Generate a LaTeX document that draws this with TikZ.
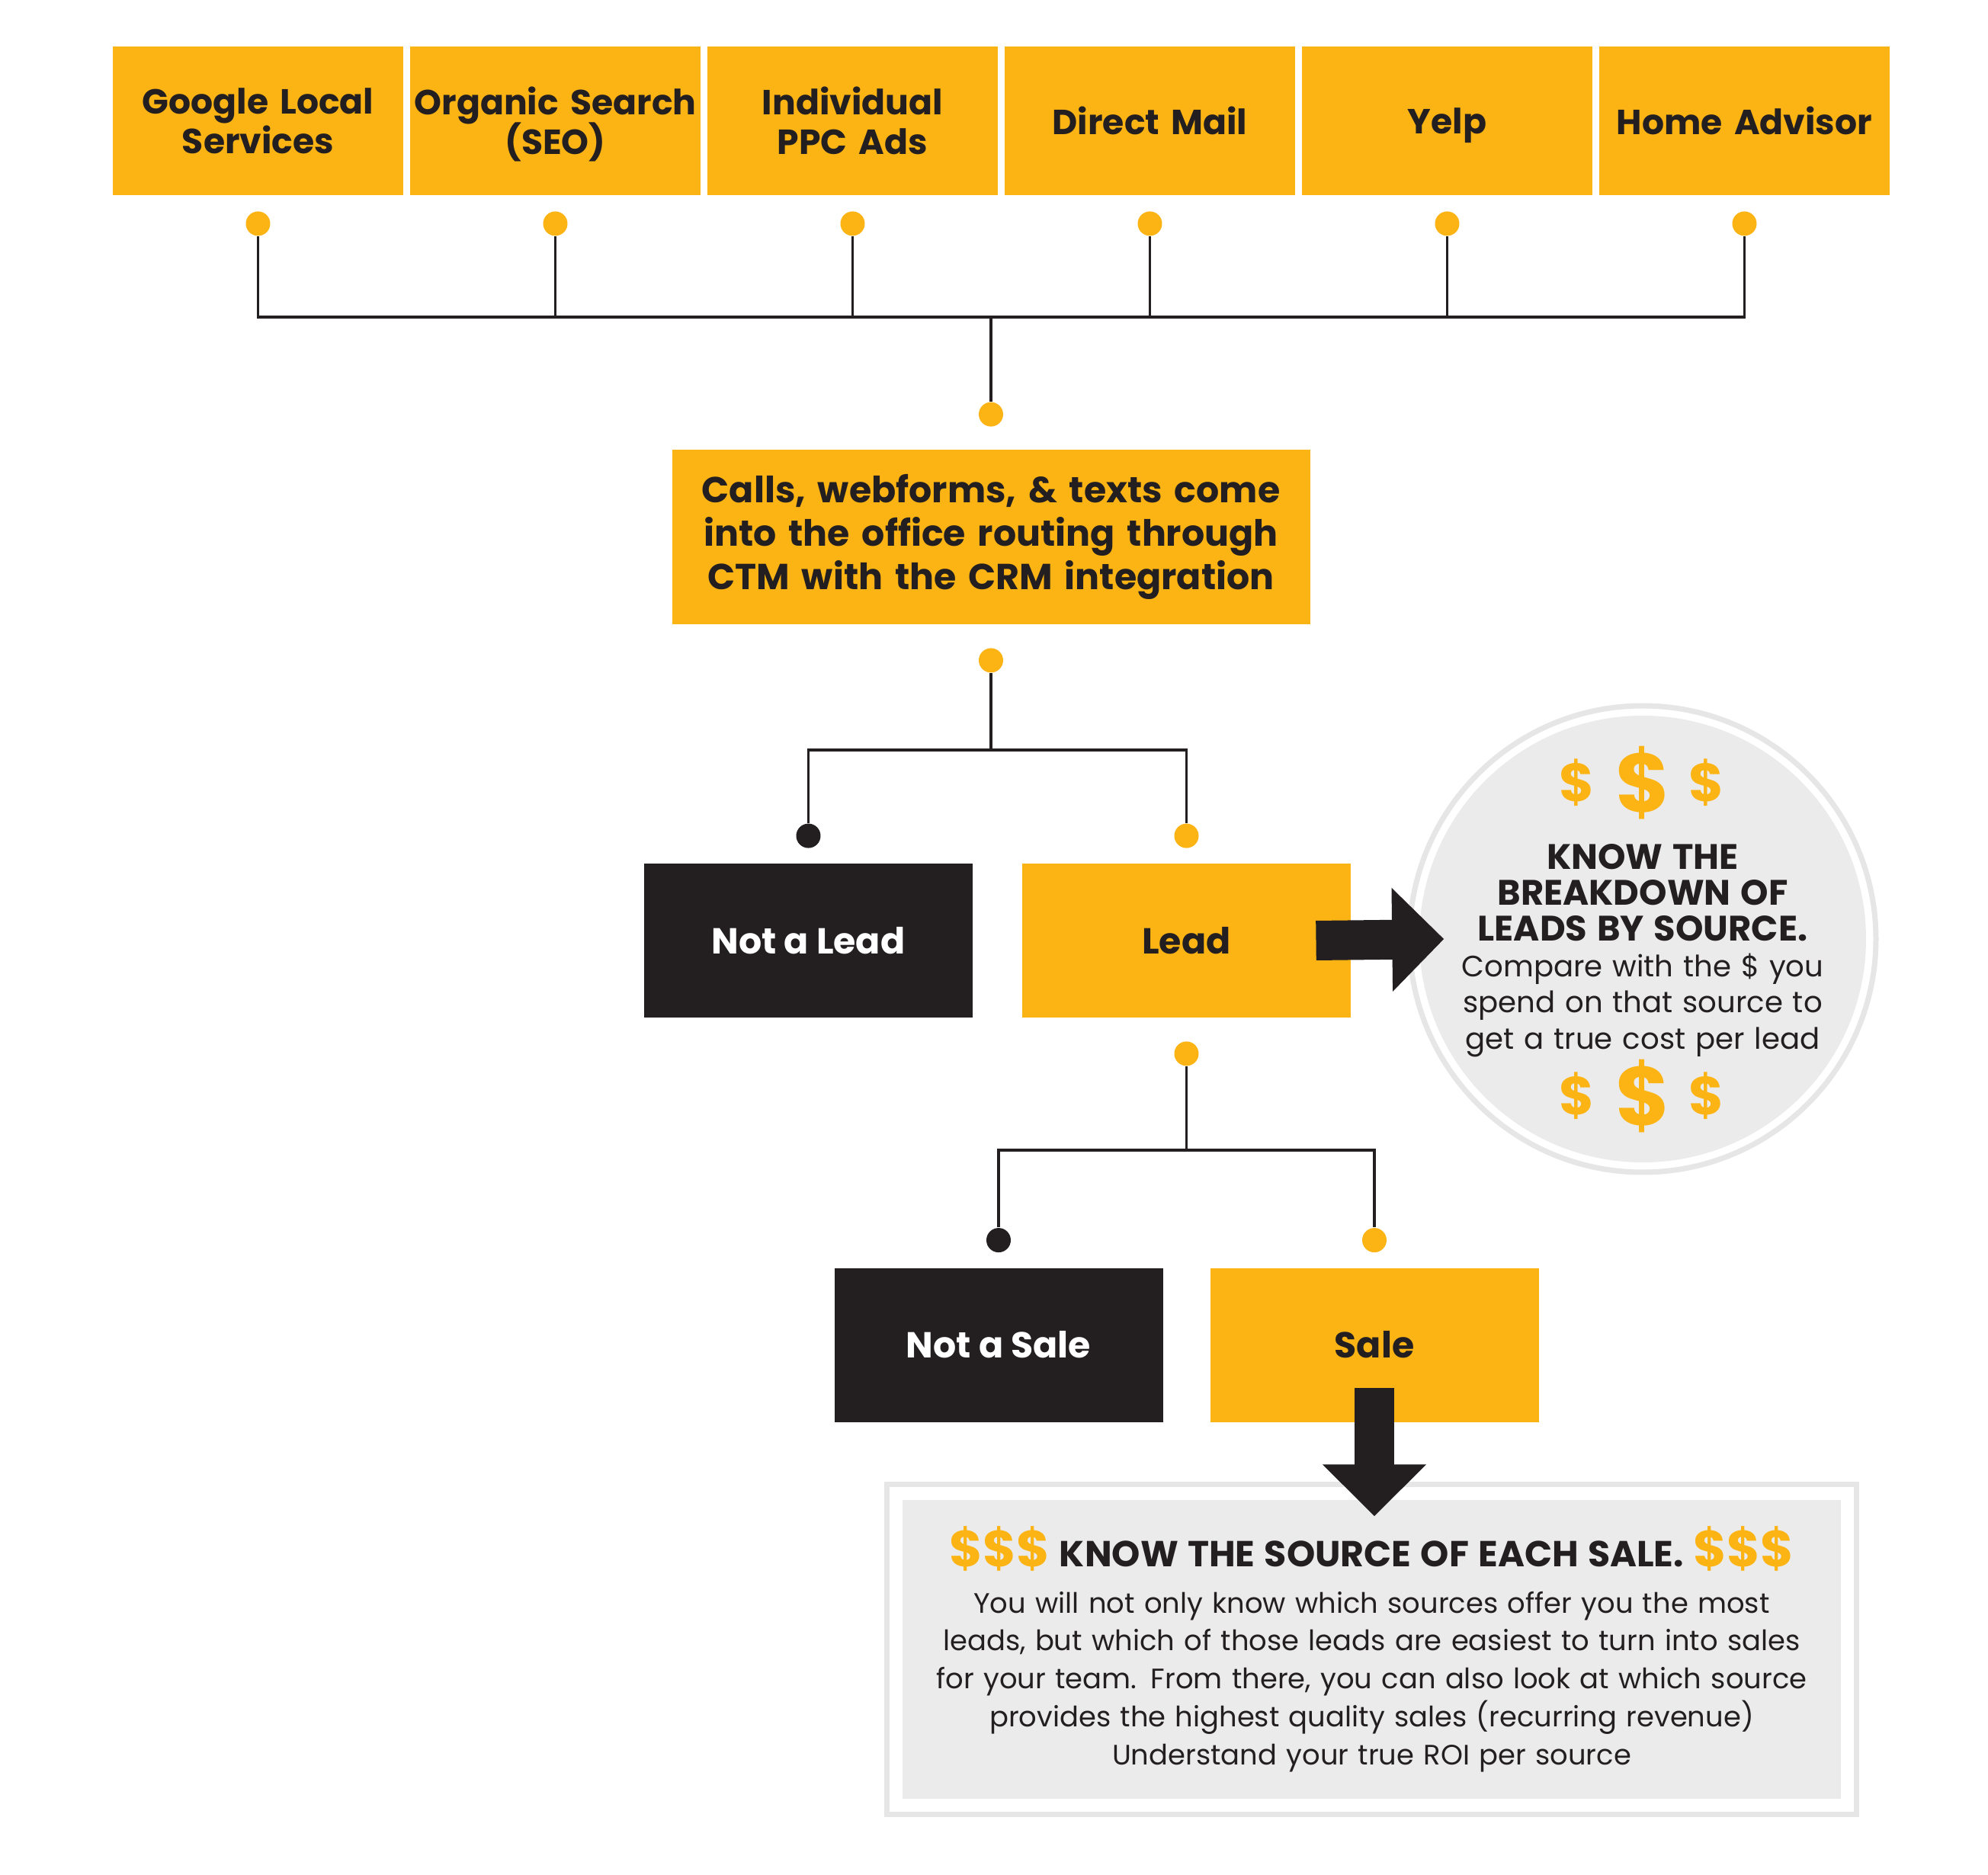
\documentclass[tikz,border=0pt]{standalone}
\usepackage{fontspec}
\setmainfont{Poppins}
\usetikzlibrary{positioning,arrows.meta,calc}
\definecolor{gold}{HTML}{FCB415}
\definecolor{ink}{HTML}{231F20}
\definecolor{paper}{HTML}{EBEBEB}
\definecolor{rim}{HTML}{E6E6E6}
\tikzset{
  srcbox/.style={rectangle, fill=gold, text=ink, minimum width=3.81cm, minimum height=1.95cm, text width=3.75cm, align=center, inner sep=0pt, font=\bfseries\fontsize{13}{14.8}\selectfont},
  callsbox/.style={rectangle, fill=gold, text=ink, minimum width=8.37cm, minimum height=2.29cm, text width=8.2cm, align=center, inner sep=0pt, font=\bfseries\fontsize{13.5}{16.2}\selectfont},
  yesbox/.style={rectangle, fill=gold, text=ink, minimum width=4.31cm, minimum height=2.02cm, inner sep=0pt, font=\bfseries\fontsize{13.5}{16}\selectfont},
  nobox/.style={yesbox, fill=ink, text=white},
  dot/.style={circle, fill=gold, inner sep=0pt, minimum size=0.32cm},
  darkdot/.style={dot, fill=ink},
  wire/.style={draw=ink, line width=1.1pt},
  bigarrow/.style={draw=ink, line width=0.52cm, -{Triangle[length=0.68cm,width=1.32cm]}},
  rimline/.style={draw=rim, line width=0.07cm},
  cash/.style={text=gold, inner sep=0pt},
}
\begin{document}
\begin{tikzpicture}
  \path[fill=white] (0,0) rectangle (26.08,-24.60);
  \useasboundingbox (0,0) rectangle (26.08,-24.60);
  % lead sources
  \foreach \lab [count=\i] in {{Google Local\\Services},{Organic Search\\\smash{(SEO)}},{Individual\\PPC Ads},{Direct Mail},{Yel\smash{p}},{Home Advisor}}{
    \node[srcbox] (src\i) at ({3.385+3.9*(\i-1)},-1.585) {\lab};
    \node[dot, below=0.2cm of src\i] (sd\i) {};
  }
  \coordinate (bus) at (13.0,-4.16);
  \draw[wire] (sd1) |- (bus) -| (sd6);
  \foreach \i in {2,...,5}
    \draw[wire] (sd\i) -- (sd\i |- bus);
  %
  \node[callsbox] (calls) at (13.0,-7.045) {Calls, webforms, \& texts come\\into the office routing through\\CTM with the CRM integration};
  \node[dot, above=0.29cm of calls] (topin) {};
  \node[dot, below=0.3cm of calls] (callout) {};
  \draw[wire] (bus) -- (topin);
  % lead or not
  \node[nobox] (notlead) at (10.605,-12.34) {Not a Lead};
  \node[yesbox] (lead) at (15.565,-12.34) {Lead};
  \node[darkdot, above=0.19cm of notlead] (nldot) {};
  \node[dot, above=0.19cm of lead] (ldot) {};
  \coordinate (fork1) at ([yshift=-1.18cm]callout.center);
  \draw[wire] (callout) -- (fork1);
  \draw[wire] (nldot) |- (fork1) -| (ldot);
  % sale or not
  \node[dot, below=0.3cm of lead] (leadout) {};
  \node[nobox] (notsale) at (13.10,-17.645) {Not a Sale};
  \node[yesbox] (sale) at (18.03,-17.645) {Sale};
  \node[darkdot, above=0.19cm of notsale] (nsdot) {};
  \node[dot, above=0.19cm of sale] (sdot) {};
  \coordinate (fork2) at ([yshift=-1.27cm]leadout.center);
  \draw[wire] (leadout) -- (fork2);
  \draw[wire] (nsdot) |- (fork2) -| (sdot);
  % breakdown circle
  \node[circle, fill=paper, minimum size=5.86cm, inner sep=0pt] (know) at (21.55,-12.32) {};
  \draw[rimline] (know.center) circle (3.06cm);
  \foreach \dy in {2.05,-2.06}
    \foreach \dx/\sz in {-0.86/20,0/31,0.84/20}
      \node[cash, font=\bfseries\fontsize{\sz}{\sz}\selectfont] at ([shift={(\dx,\dy)}]know.center) {\$};
  \node[text=ink, text width=5.4cm, align=center, inner sep=0pt, font=\fontsize{11}{13.4}\selectfont] at ([yshift=-0.15cm]know.center)
    {{\bfseries\fontsize{13.2}{13.4}\selectfont KNOW THE\\BREAKDOWN OF\\LEADS BY SOURCE.}\\Compare with the \$ you\\spend on that source to\\get a true cost per lead};
  \draw[bigarrow] ([xshift=1.7cm]lead.center) -- ([xshift=0.33cm]know.west);
  % source of each sale
  \node[rectangle, fill=paper, minimum width=12.31cm, minimum height=3.92cm, text=ink, text width=12.3cm, align=center, inner sep=0pt, font=\fontsize{10.5}{14.2}\selectfont] (info) at (17.995,-21.64)
    {{\bfseries\fontsize{13.5}{14.2}\selectfont{\color{gold}\fontsize{19}{14.2}\selectfont\$\$\$}\ KNOW THE SOURCE OF EACH SALE.\ {\color{gold}\fontsize{19}{14.2}\selectfont\$\$\$}}\\[3pt]
     You will not only know which sources offer you the most\\leads, but which of those leads are easiest to turn into sales\\for your team. From there, you can also look at which source\\provides the highest quality sales (recurring revenue)\\Understand your true ROI per source};
  \draw[rimline] ([shift={(-0.2,-0.2)}]info.south west) rectangle ([shift={(0.2,0.2)}]info.north east);
  \draw[bigarrow] ([yshift=-0.565cm]sale.center) -- ([yshift=-0.22cm]sale.center |- info.north);
\end{tikzpicture}
\end{document}
